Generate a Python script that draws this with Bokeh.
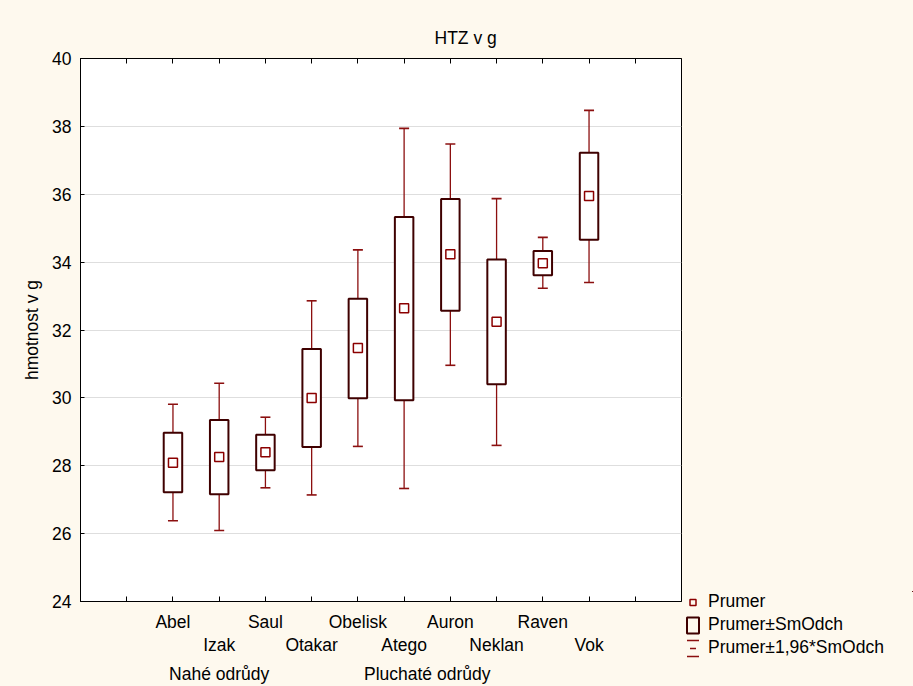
import math
from bokeh.plotting import figure
from bokeh.layouts import row, column
from bokeh.models import ColumnDataSource, FixedTicker, LinearAxis, Legend, LegendItem
from bokeh.embed import file_html
from bokeh.resources import INLINE

# ---- data ----
categories = ["Abel", "Izak", "Saul", "Otakar", "Obelisk", "Atego", "Auron", "Neklan", "Raven", "Vok"]
positions = [2, 3, 4, 5, 6, 7, 8, 9, 10, 11]
mean = [28.09, 28.26, 28.40, 30.00, 31.47, 32.64, 34.23, 32.24, 33.97, 35.95]
sd_hi = [28.97, 29.35, 28.91, 31.44, 32.92, 35.33, 35.86, 34.08, 34.33, 37.22]
sd_lo = [27.22, 27.16, 27.87, 28.55, 29.99, 29.93, 32.57, 30.40, 33.61, 34.66]
ci_hi = [29.81, 30.43, 29.43, 32.86, 34.36, 37.94, 37.48, 35.87, 34.73, 38.47]
ci_lo = [26.38, 26.09, 27.35, 27.14, 28.57, 27.33, 30.96, 28.60, 33.23, 33.40]
groups = ["Nahé odrůdy", "Pluchaté odrůdy"]
group_positions = [3.0, 7.5]
x_ticks = [1, 2, 3, 4, 5, 6, 7, 8, 9, 10, 11, 12]
y_ticks = [24, 26, 28, 30, 32, 34, 36, 38, 40]
legend_labels = ["Prumer", "Prumer±SmOdch", "Prumer±1,96*SmOdch"]

FONT = "Liberation Sans"
FS = "17.5px"
BG = "#FEF9EE"
BOX_C = "#3f0000"
WH_C = "#8b0f0f"
MEAN_C = "#8b0000"

src = ColumnDataSource(dict(x=positions, mean=mean, sd_hi=sd_hi, sd_lo=sd_lo,
                            ci_hi=ci_hi, ci_lo=ci_lo))

p = figure(width=676, height=675, x_range=(0, 13), y_range=(24, 40),
           output_backend="svg", toolbar_location=None,
           margin=(11, 0, 0, 9),
           min_border_left=71, min_border_right=4, min_border_top=47, min_border_bottom=83,
           background_fill_color="white", border_fill_color=BG,
           title="HTZ v g")

p.title.align = "left"
p.title.offset = 354
p.title.text_font = FONT
p.title.text_font_size = FS
p.title.text_font_style = "normal"
p.title.text_color = "black"
p.title.standoff = 22

p.outline_line_color = "black"
p.outline_line_width = 1
p.xgrid.visible = False
p.ygrid.ticker = FixedTicker(ticks=y_ticks)
p.ygrid.grid_line_color = "#dedede"
p.ygrid.grid_line_width = 1.2

# left axis
ya = p.yaxis[0]
ya.ticker = FixedTicker(ticks=y_ticks)
ya.major_tick_in = 4
ya.major_tick_out = 0
ya.minor_tick_line_color = None
ya.axis_line_color = "black"
ya.major_label_text_font = FONT
ya.major_label_text_font_size = FS
ya.major_label_text_color = "black"
ya.major_label_standoff = 9
ya.axis_label = "hmotnost v g"
ya.axis_label_text_font = FONT
ya.axis_label_text_font_size = FS
ya.axis_label_text_font_style = "normal"
ya.axis_label_text_color = "black"
ya.axis_label_standoff = 7

# bottom axis: first row of category labels
xa = p.xaxis[0]
xa.ticker = FixedTicker(ticks=x_ticks)
row1 = {t: "" for t in x_ticks}
row2 = {}
for i, (name, pos) in enumerate(zip(categories, positions)):
    if i % 2 == 0:
        row1[pos] = name
    else:
        row2[pos] = name
xa.major_label_overrides = row1
xa.major_tick_in = 5
xa.major_tick_out = 0
xa.minor_tick_line_color = None
xa.axis_line_color = "black"
xa.major_label_text_font = FONT
xa.major_label_text_font_size = FS
xa.major_label_text_color = "black"
xa.major_label_standoff = 10

def text_axis(ticks, overrides, standoff):
    ax = LinearAxis(ticker=FixedTicker(ticks=ticks), major_label_overrides=overrides)
    ax.axis_line_color = None
    ax.major_tick_line_color = None
    ax.minor_tick_line_color = None
    ax.major_tick_in = 0
    ax.major_tick_out = 0
    ax.major_label_text_font = FONT
    ax.major_label_text_font_size = FS
    ax.major_label_text_color = "black"
    ax.major_label_standoff = standoff
    return ax

ax2 = text_axis(list(row2.keys()), row2, 0)
p.add_layout(ax2, "below")
ax3 = text_axis(group_positions, dict(zip(group_positions, groups)), 6)
p.add_layout(ax3, "below")

# top axis with inward ticks
top = LinearAxis(ticker=FixedTicker(ticks=x_ticks),
                 major_label_overrides={t: "" for t in x_ticks})
top.major_tick_in = 5
top.major_tick_out = 0
top.minor_tick_line_color = None
top.major_label_text_font_size = "0px"
top.major_label_standoff = 0
p.add_layout(top, "above")

# boxes, whiskers, means
p.segment(x0="x", y0="sd_hi", x1="x", y1="ci_hi", source=src, line_color=WH_C, line_width=1.3)
p.segment(x0="x", y0="sd_lo", x1="x", y1="ci_lo", source=src, line_color=WH_C, line_width=1.3)
p.scatter(x="x", y="ci_hi", source=src, marker="dash", size=10, line_color=WH_C, line_width=1.6)
p.scatter(x="x", y="ci_lo", source=src, marker="dash", size=10, line_color=WH_C, line_width=1.6)
p.vbar(x="x", width=0.4, top="sd_hi", bottom="sd_lo", source=src,
       fill_color="white", line_color=BOX_C, line_width=2)
p.scatter(x="x", y="mean", source=src, marker="square", size=9,
          fill_color="white", line_color=MEAN_C, line_width=1.5)

# ---- small legend figure (its renderers fall outside its own ranges) ----
lf = figure(width=228, height=75, x_range=(0, 1), y_range=(0, 1),
            output_backend="svg", toolbar_location=None,
            x_axis_location=None, y_axis_location=None,
            margin=(591, 0, 0, 0), min_border=0,
            background_fill_color=BG, border_fill_color=BG)
lf.outline_line_color = None
lf.grid.visible = False

lg_mean = lf.scatter(x="x", y="mean", source=src, marker="square", size=8,
                     fill_color=None, line_color=MEAN_C, line_width=1.5)
lg_box = lf.vbar(x="x", top="sd_hi", bottom="sd_lo", width=0.4, source=src,
                 fill_color=None, line_color=BOX_C, line_width=2)
GW, GH = 15, 20            # legend glyph box; drawn rect is 80% of it (12 x 16)
lg_caps = lf.vbar(x="x", top="ci_hi", bottom="ci_lo", width=0.4, source=src,
                  fill_color=None, line_color=WH_C, line_width=1.5, line_dash="12 16")
lg_stem = lf.scatter(x="x", y="mean", source=src, marker="dash", angle=math.pi / 2, size=16,
                     line_color=WH_C, line_width=1.5)

legend = Legend(items=[LegendItem(label=legend_labels[0], renderers=[lg_mean]),
                       LegendItem(label=legend_labels[1], renderers=[lg_box]),
                       LegendItem(label=legend_labels[2], renderers=[lg_caps, lg_stem])],
                location="top_left")
legend.glyph_width = GW
legend.glyph_height = GH
legend.label_height = GH
legend.spacing = 2
legend.padding = 0
legend.margin = 0
legend.label_standoff = 8
legend.border_line_color = None
legend.background_fill_alpha = 0
legend.label_text_font = FONT
legend.label_text_font_size = FS
legend.label_text_color = "black"
lf.add_layout(legend, "center")

layout = row(p, column(lf), spacing=0)
layout.background = BG
open("out.html", "w").write(file_html(layout, INLINE))
